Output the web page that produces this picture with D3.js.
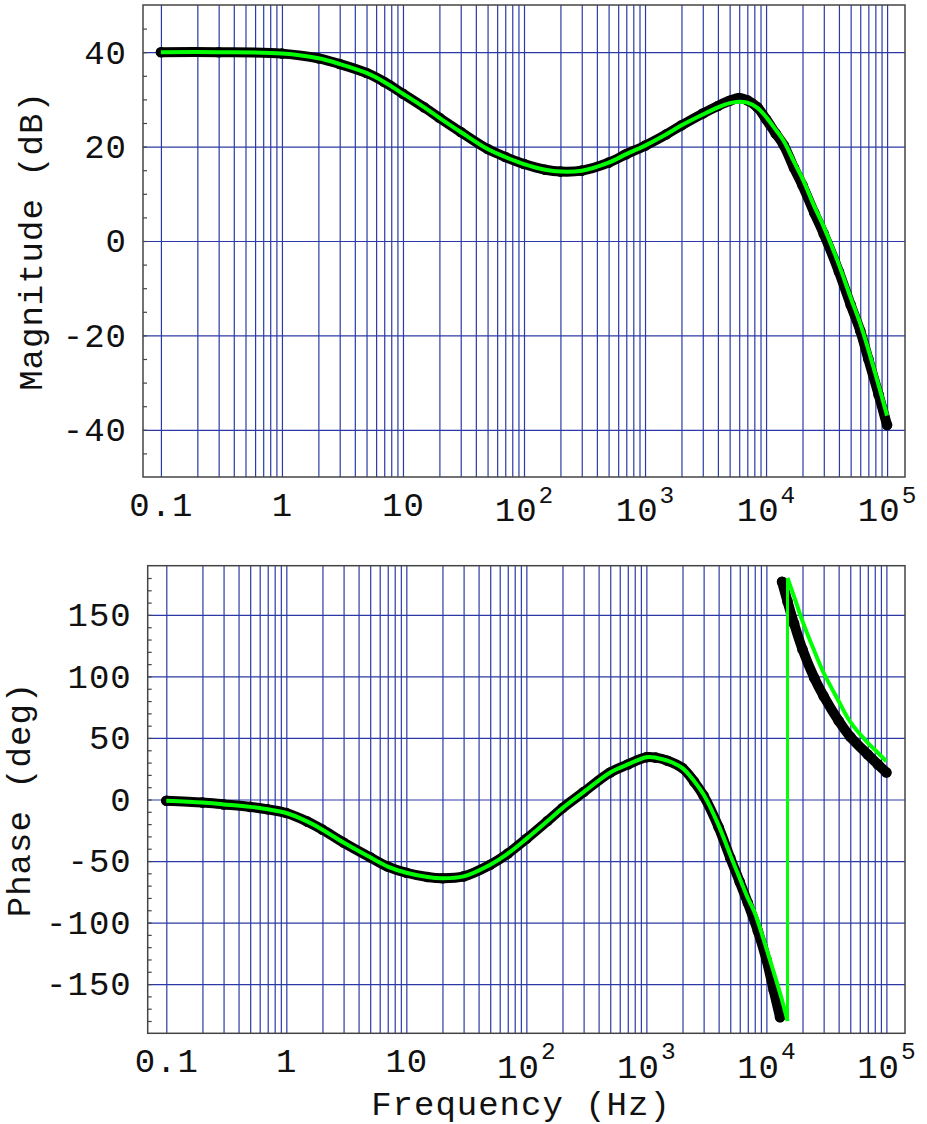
<!DOCTYPE html>
<html><head><meta charset="utf-8">
<script src="https://cdn.jsdelivr.net/npm/d3@7"></script>
<style>
body{margin:0;background:#fff;}
svg text{font-family:"Courier New","Liberation Mono",monospace;}
</style></head><body>
<svg id="c" width="927" height="1124"></svg>
<script>
// ---------- data ----------
const xTickValues = [0.1, 1, 10, 100, 1000, 10000, 100000];
const xTickLabels = ["0.1", "1", "10", "10^2", "10^3", "10^4", "10^5"];

const magTicks = [-40, -20, 0, 20, 40];
const phaseTicks = [-150, -100, -50, 0, 50, 100, 150];

// Magnitude (dB) — measured (black dots) and model (green)
const magFreq = [0.1,0.3,1,2,3,5,7,10,15,20,30,50,70,100,150,200,300,500,700,1000,1500,2000,3000,4000,5000,6000,7000,8500,10000,12000,14000,17000,20000,25000,30000,40000,50000,60000,70000,85000,100000];
const magMeasured = [40.0,40.0,39.7,38.7,37.5,35.6,33.7,31.2,28.3,26.1,23.1,19.5,17.8,16.3,15.1,14.7,14.9,16.6,18.4,20.2,22.6,24.5,27.0,28.6,29.7,30.3,29.8,28.3,25.8,22.8,20.3,15.5,11.8,6.0,1.5,-6.5,-13.5,-19.0,-25.0,-32.5,-39.0];
const magModel = [40.0,40.0,39.7,38.7,37.5,35.6,33.7,31.2,28.3,26.1,23.1,19.5,17.8,16.3,15.1,14.7,14.9,16.6,18.4,20.2,22.6,24.5,26.8,28.3,29.2,29.5,29.3,28.2,26.3,23.6,21.2,16.8,13.2,7.4,3.0,-5.0,-12.0,-17.5,-23.0,-30.5,-37.0];

// Phase (deg) — measured (black dots)
const phaseFreq = [0.1,0.2,0.3,0.5,0.7,1,1.5,2,3,5,7,10,15,20,30,50,70,100,150,200,300,500,700,1000,1200,1500,2000,2500,3000,4000,5000,6000,7000,8500,10000,11500,13000,13500,15000,17000,20000,25000,30000,40000,50000,70000,85000,100000];
const phaseMeasured = [-1,-2.5,-4,-6,-8,-11,-18,-24.5,-35,-47,-54.5,-59.5,-63,-64,-62.5,-53,-44,-32,-17.5,-7,6,22,28.5,34.3,34,31.5,25.5,14.5,3,-22.5,-47.5,-67,-84,-107,-130,-155,-177,177,161,143,122,99,84,64,51,36.5,28.5,22];

// Phase (deg) — model (green)
const phaseModelFreq = [0.1,0.2,0.3,0.5,0.7,1,1.5,2,3,5,7,10,15,20,30,50,70,100,150,200,300,500,700,1000,1200,1500,2000,2500,3000,4000,5000,6000,7000,8000,10000,12000,13500,15000,15000,17000,20000,25000,30000,40000,50000,70000,85000,100000];
const phaseModel = [-1,-2.5,-4,-6,-8,-11,-18,-24.5,-35,-47,-54.5,-59.5,-63,-64,-62.5,-53,-44,-32,-17.5,-7,6,22,28.5,34.3,34,31.5,25.5,15,4,-21,-45,-64,-80,-92,-121,-146,-163,-180,180,165,145,121,103,80,63,46,38,31];

// ---------- drawing ----------
const svg = d3.select("#c");
const FONT = 34;
const gridColor = "#2b3aa6";
const frameColor = "#444";

function toPts(f, v){ return f.map((d,i)=>({f:d, v:v[i]})); }
function split(pts){
  const segs=[[pts[0]]];
  for(let i=1;i<pts.length;i++){
    if(Math.abs(pts[i].v-pts[i-1].v)>180) segs.push([]);
    segs[segs.length-1].push(pts[i]);
  }
  return segs;
}

function xGridValues(){
  const out=[];
  for(let n=-1;n<=4;n++) for(let k=1;k<=9;k++) out.push(k*Math.pow(10,n));
  out.push(1e5);
  return out;
}

function panel(p){
  const pad = p.pad;
  const x = d3.scaleLog().domain([0.1/Math.pow(10,pad), 1e5*Math.pow(10,pad)]).range([p.l, p.r]);
  const y = d3.scaleLinear().domain(p.yDom).range([p.b, p.t]);
  const g = svg.append("g");

  // vertical grid
  g.append("g").attr("transform",`translate(0,${p.b})`)
    .call(d3.axisBottom(x).tickValues(xGridValues()).tickSize(-(p.b-p.t)).tickFormat(""))
    .call(s=>s.select(".domain").remove())
    .call(s=>s.selectAll(".tick line").attr("stroke",gridColor).attr("stroke-width",1.2));
  // horizontal grid
  g.append("g").attr("transform",`translate(${p.l},0)`)
    .call(d3.axisLeft(y).tickValues(p.yMajor).tickSize(-(p.r-p.l)).tickFormat(""))
    .call(s=>s.select(".domain").remove())
    .call(s=>s.selectAll(".tick line").attr("stroke",gridColor).attr("stroke-width",1.2));
  // minor ticks on left
  g.append("g").attr("transform",`translate(${p.l},0)`)
    .call(d3.axisLeft(y).tickValues(d3.range(p.yDom[0]+p.minor, p.yDom[1], p.minor)).tickSizeInner(-4).tickSizeOuter(0).tickFormat(""))
    .call(s=>s.select(".domain").remove())
    .call(s=>s.selectAll(".tick line").attr("stroke",frameColor).attr("stroke-width",1.2));
  // frame
  g.append("rect").attr("x",p.l).attr("y",p.t).attr("width",p.r-p.l).attr("height",p.b-p.t)
    .attr("fill","none").attr("stroke",frameColor).attr("stroke-width",1.5);

  // y tick labels
  g.append("g").attr("transform",`translate(${p.l},0)`)
    .call(d3.axisLeft(y).tickValues(p.yMajor).tickSize(0).tickPadding(16).tickFormat(d=>String(d)))
    .call(s=>s.select(".domain").remove())
    .call(s=>s.selectAll("text").attr("font-size",FONT).attr("fill","#111").attr("letter-spacing","1px"));

  // x tick labels
  g.append("g").attr("transform",`translate(0,${p.b})`)
    .call(d3.axisBottom(x).tickValues(xTickValues).tickSize(0).tickPadding(15).tickFormat((d,i)=>xTickLabels[i]))
    .call(s=>s.select(".domain").remove())
    .call(s=>s.selectAll("text").attr("font-size",FONT).attr("fill","#111").attr("letter-spacing","1px").each(function(){
      const t=d3.select(this); const lab=t.text();
      if(lab.includes("^")){
        const [b,e]=lab.split("^");
        t.text(""); t.attr("dy","0.86em");
        t.append("tspan").text(b);
        t.append("tspan").attr("font-size",FONT*0.72).attr("dy","-0.75em").attr("dx","1").text(e);
      }
    }));

  const line = d3.line().x(d=>x(d.f)).y(d=>y(d.v)).curve(d3.curveCatmullRom.alpha(0.5));
  const straight = d3.line().x(d=>x(d.f)).y(d=>y(d.v));

  // measured (black dots)
  split(toPts(p.mF, p.mV)).forEach(seg=>{
    g.append("path").attr("d",line(seg)).attr("fill","none").attr("stroke","#000")
      .attr("stroke-width",10).attr("stroke-linecap","round").attr("stroke-linejoin","round");
    g.selectAll(null).data(seg).join("circle").attr("cx",d=>x(d.f)).attr("cy",d=>y(d.v)).attr("r",5.3).attr("fill","#000");
  });
  // model (green)
  const gsegs = split(toPts(p.gF, p.gV));
  gsegs.forEach((seg,i)=>{
    g.append("path").attr("d",line(seg)).attr("fill","none").attr("stroke","#00ff00")
      .attr("stroke-width",4).attr("stroke-linejoin","round");
    if(i>0){
      const prev=gsegs[i-1];
      g.append("path").attr("d",straight([prev[prev.length-1], seg[0]])).attr("fill","none")
        .attr("stroke","#00ff00").attr("stroke-width",3);
    }
  });

  // axis title
  svg.append("text").attr("transform",`translate(${p.titleX},${(p.t+p.b)/2}) rotate(-90)`)
    .attr("text-anchor","middle").attr("font-size",FONT).attr("fill","#111").attr("letter-spacing","1px").text(p.title);
  return {x,y};
}

panel({l:143, r:905, t:5, b:477, pad:0.148, yDom:[-50,50], yMajor:magTicks, minor:5,
  mF:magFreq, mV:magMeasured, gF:magFreq, gV:magModel, title:"Magnitude (dB)", titleX:42});
panel({l:147.7, r:905, t:565.7, b:1033.3, pad:0.155, yDom:[-190,190], yMajor:phaseTicks, minor:10,
  mF:phaseFreq, mV:phaseMeasured, gF:phaseModelFreq, gV:phaseModel, title:"Phase (deg)", titleX:30});

svg.append("text").attr("x",521).attr("y",1115).attr("text-anchor","middle")
  .attr("font-size",FONT).attr("fill","#111").attr("letter-spacing","1px").text("Frequency (Hz)");
</script>
</body></html>
